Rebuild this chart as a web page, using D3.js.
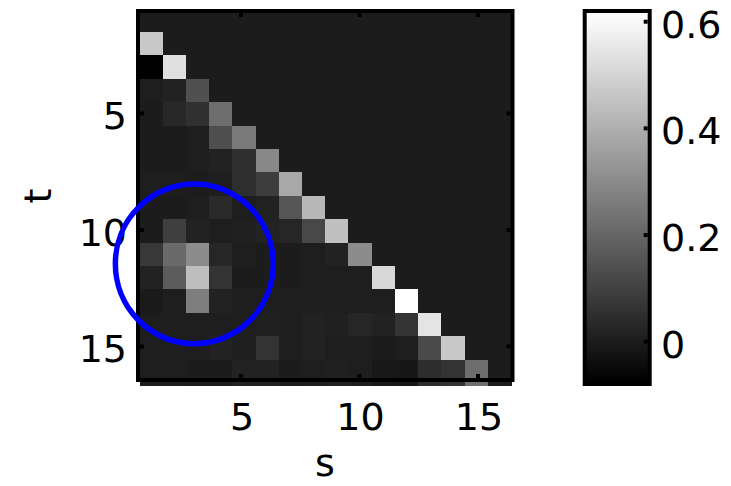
<!DOCTYPE html>
<html>
<head>
<meta charset="utf-8">
<script src="https://cdn.jsdelivr.net/npm/d3@7"></script>
<style>
  body { margin: 0; background: #fff; }
  svg { display: block; }
  text { font-family: "DejaVu Sans", sans-serif; font-size: 38px; fill: #000; }
</style>
</head>
<body>
<svg id="chart" width="731" height="486"></svg>
<script>
// s along columns, t along rows
const sVals = d3.range(1, 17);
const tVals = d3.range(1, 17);

// weights[t-1][s-1]
const weights = [
  [0, 0, 0, 0, 0, 0, 0, 0, 0, 0, 0, 0, 0, 0, 0, 0],
  [0.468, 0, 0, 0, 0, 0, 0, 0, 0, 0, 0, 0, 0, 0, 0, 0],
  [-0.072, 0.533, 0, 0, 0, 0, 0, 0, 0, 0, 0, 0, 0, 0, 0, 0],
  [0.005, 0.016, 0.141, 0, 0, 0, 0, 0, 0, 0, 0, 0, 0, 0, 0, 0],
  [0, 0.033, 0.054, 0.223, 0, 0, 0, 0, 0, 0, 0, 0, 0, 0, 0, 0],
  [0, 0, 0.005, 0.136, 0.256, 0, 0, 0, 0, 0, 0, 0, 0, 0, 0, 0],
  [0, 0, 0.005, 0.016, 0.049, 0.294, 0, 0, 0, 0, 0, 0, 0, 0, 0, 0],
  [0.005, 0.005, 0, 0.005, 0.049, 0.09, 0.381, 0, 0, 0, 0, 0, 0, 0, 0, 0],
  [0, 0, 0.005, 0.038, 0.005, 0.016, 0.155, 0.424, 0, 0, 0, 0, 0, 0, 0, 0],
  [0, 0.095, 0.016, 0.005, 0.011, 0.02, 0.027, 0.12, 0.446, 0, 0, 0, 0, 0, 0, 0],
  [0.076, 0.212, 0.305, 0.027, 0.005, 0, 0, 0.005, 0.016, 0.305, 0, 0, 0, 0, 0, 0],
  [0.016, 0.174, 0.44, 0.063, 0, 0, 0, 0.005, 0.005, 0.005, 0.511, 0, 0, 0, 0, 0],
  [-0.005, 0.005, 0.266, 0.016, 0.005, 0.005, 0.005, 0.005, 0.005, 0.005, 0.005, 0.617, 0, 0, 0, 0],
  [0.005, 0.005, 0.005, 0.005, 0.005, 0.011, 0.005, 0.016, 0.011, 0.027, 0.016, 0.065, 0.544, 0, 0, 0],
  [0.005, 0.005, 0.005, 0.016, 0.005, 0.063, 0.005, 0.016, 0.005, 0.005, 0, 0.005, 0.125, 0.468, 0, 0],
  [0.005, 0.005, 0, 0, 0.016, 0.016, 0, 0.005, 0.011, 0.005, -0.011, -0.013, 0.046, 0.063, 0.223, 0]
];

const xTicks = [5, 10, 15];
const yTicks = [5, 10, 15];
const colorTicks = [0, 0.2, 0.4, 0.6];
const colorLimits = [-0.076, 0.617];

// highlighted region (data units)
const ring = { s: 2.86, t: 11.41, rs: 3.40, rt: 3.41 };

const svg = d3.select('#chart');

const x = d3.scaleLinear().domain([0.5, 16.5]).range([139.5, 511]);
const y = d3.scaleLinear().domain([0.5, 16.5]).range([8.5, 383]);
const xAxisPos = d3.scaleLinear().domain([5, 15]).range([241, 478]);
const yAxisPos = d3.scaleLinear().domain([5, 15]).range([113.5, 346.5]);
const color = d3.scaleLinear().domain(colorLimits).range(['#000', '#fff']).clamp(true);
const cb = d3.scaleLinear().domain([0, 0.6]).range([341.7, 21.7]);

const cells = [];
tVals.forEach((t, i) => sVals.forEach((s, j) => cells.push({ s, t, v: weights[i][j] })));

svg.append('g')
  .attr('shape-rendering', 'crispEdges')
  .selectAll('rect')
  .data(cells)
  .enter().append('rect')
  .attr('x', d => x(d.s - 0.5))
  .attr('y', d => y(d.t - 0.5))
  .attr('width', d => x(d.s + 0.5) - x(d.s - 0.5) + 1)
  .attr('height', d => y(d.t + 0.5) - y(d.t - 0.5) + 3)
  .attr('fill', d => color(d.v));

// axes box
svg.append('rect')
  .attr('x', 138).attr('y', 11)
  .attr('width', 374.5).attr('height', 369)
  .attr('fill', 'none').attr('stroke', '#000').attr('stroke-width', 4);

const ticks = svg.append('g').attr('stroke', '#000').attr('stroke-width', 4);
xTicks.forEach(v => {
  ticks.append('line').attr('x1', xAxisPos(v)).attr('x2', xAxisPos(v)).attr('y1', 13).attr('y2', 17);
  ticks.append('line').attr('x1', xAxisPos(v)).attr('x2', xAxisPos(v)).attr('y1', 378).attr('y2', 374);
});
yTicks.forEach(v => {
  ticks.append('line').attr('y1', yAxisPos(v)).attr('y2', yAxisPos(v)).attr('x1', 140).attr('x2', 144);
  ticks.append('line').attr('y1', yAxisPos(v)).attr('y2', yAxisPos(v)).attr('x1', 510.5).attr('x2', 506.5);
});

svg.append('g')
  .selectAll('text')
  .data(xTicks)
  .enter().append('text')
  .attr('x', d => xAxisPos(d) + 1)
  .attr('y', 430)
  .attr('text-anchor', 'middle')
  .text(d => d);

svg.append('g')
  .selectAll('text')
  .data(yTicks)
  .enter().append('text')
  .attr('x', 127)
  .attr('y', d => yAxisPos(d) + 2)
  .attr('dy', '0.365em')
  .attr('text-anchor', 'end')
  .text(d => d);

svg.append('text')
  .attr('x', 325).attr('y', 476)
  .attr('text-anchor', 'middle')
  .text('s');

svg.append('text')
  .attr('transform', 'translate(51,196) rotate(-90)')
  .attr('text-anchor', 'middle')
  .text('t');

// annotation ring
svg.append('ellipse')
  .attr('cx', x(ring.s))
  .attr('cy', y(ring.t))
  .attr('rx', x(ring.s + ring.rs) - x(ring.s))
  .attr('ry', y(ring.t + ring.rt) - y(ring.t))
  .attr('fill', 'none')
  .attr('stroke', '#0000ff')
  .attr('stroke-width', 5.5);

// colorbar
const grad = svg.append('defs').append('linearGradient')
  .attr('id', 'cbGrad')
  .attr('gradientUnits', 'userSpaceOnUse')
  .attr('x1', 0).attr('x2', 0)
  .attr('y1', cb(colorLimits[0])).attr('y2', cb(colorLimits[1]));
grad.append('stop').attr('offset', 0).attr('stop-color', color(colorLimits[0]));
grad.append('stop').attr('offset', 1).attr('stop-color', color(colorLimits[1]));

svg.append('rect')
  .attr('x', 584.7).attr('y', 11)
  .attr('width', 65).attr('height', 373)
  .attr('fill', 'url(#cbGrad)')
  .attr('stroke', '#000').attr('stroke-width', 4);

const cbTicks = svg.append('g').attr('stroke', '#000').attr('stroke-width', 4);
colorTicks.forEach(v => {
  cbTicks.append('line').attr('x1', 647.7).attr('x2', 643.7).attr('y1', cb(v)).attr('y2', cb(v));
});

svg.append('g')
  .selectAll('text')
  .data(colorTicks)
  .enter().append('text')
  .attr('x', 661)
  .attr('y', d => cb(d) + 2)
  .attr('dy', '0.365em')
  .text(d => d);
</script>
</body>
</html>
